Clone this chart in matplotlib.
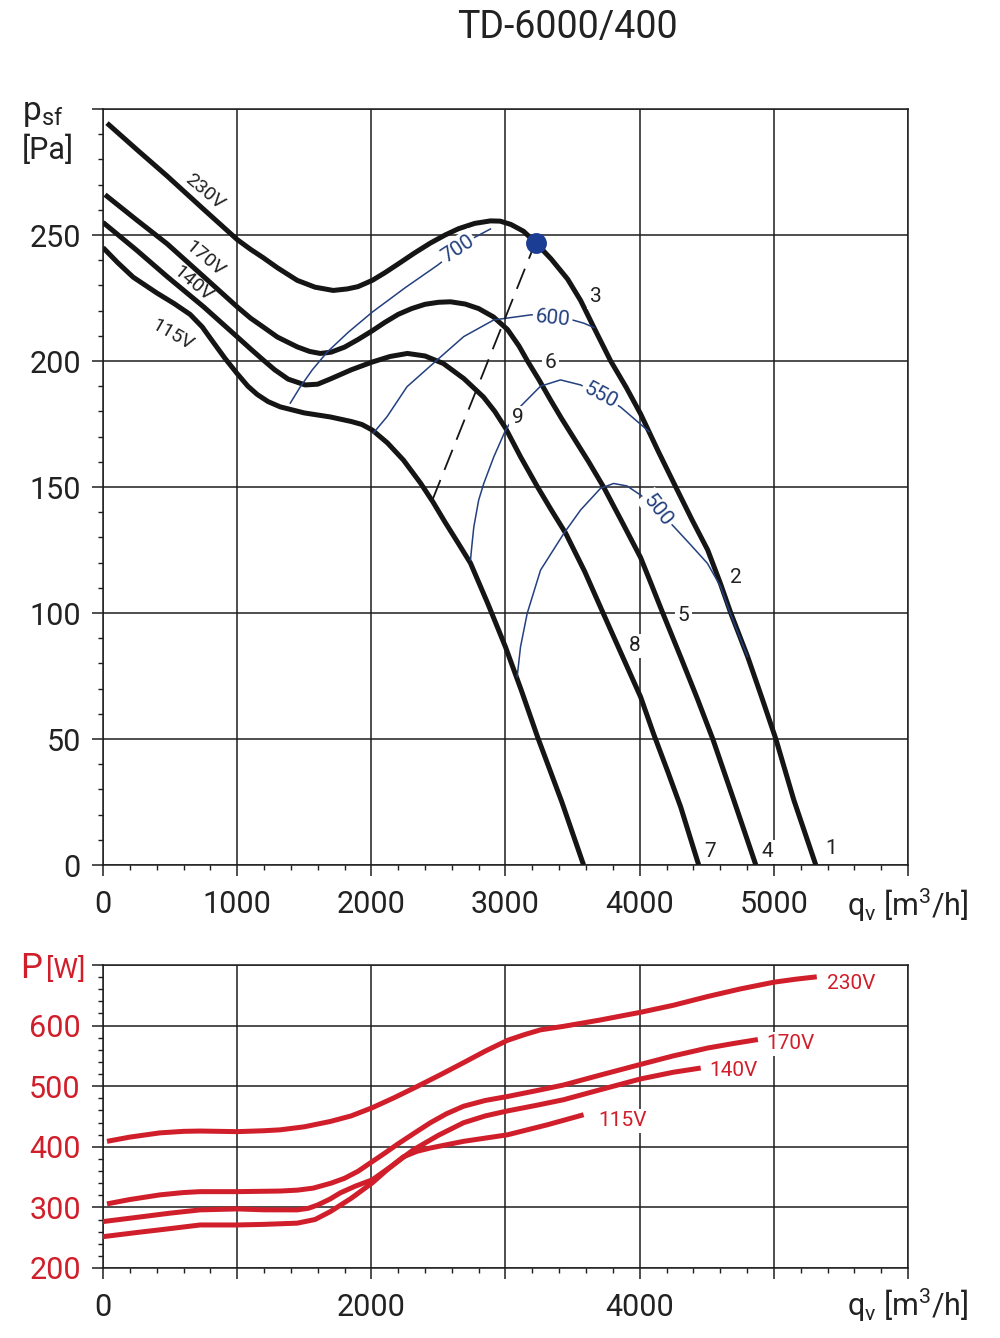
import numpy as np
import matplotlib
matplotlib.use('Agg')
import matplotlib.pyplot as plt
from matplotlib.ticker import MultipleLocator

plt.rcParams['font.family'] = ['Roboto', 'DejaVu Sans']
plt.rcParams['mathtext.default'] = 'regular'

# pressure curves, q [m3/h] vs p_sf [Pa]
q_230 = [30, 250, 478, 750, 1000, 1100, 1194, 1300, 1448, 1580, 1716, 1820, 1900, 2007, 2100, 2200,
         2320, 2440, 2550, 2650, 2770, 2888, 2960, 3040, 3134, 3224, 3340, 3463, 3560, 3657, 3784,
         3900, 4007, 4140, 4269, 4390, 4507, 4600, 4679, 4806, 4910, 5015, 5149, 5313]
p_230 = [294.4, 284, 273.4, 260.2, 248.2, 244.3, 241, 237, 232, 229.3, 228, 228.6, 229.5, 232, 235,
         238.5, 242.8, 246.8, 250, 252.5, 254.6, 255.6, 255.5, 254.2, 251.5, 247, 240.5, 232.5, 224,
         213.5, 200, 189.5, 179, 164, 150, 137, 125, 112, 100, 82.5, 66.5, 50, 25.8, 0]

q_170 = [15, 250, 478, 750, 1000, 1100, 1194, 1300, 1448, 1540, 1619, 1700, 1800, 1900, 2007, 2100,
         2200, 2300, 2400, 2500, 2590, 2700, 2800, 2910, 3015, 3100, 3164, 3250, 3336, 3420, 3500,
         3620, 3731, 3870, 4007, 4090, 4172, 4306, 4430, 4545, 4700, 4866]
p_170 = [266, 256, 246.5, 233.5, 221.5, 217, 213.5, 209.5, 205.6, 203.8, 203, 203.5, 205.5, 208.5,
         212, 215.3, 218.5, 220.8, 222.5, 223.3, 223.5, 222.6, 220.8, 217.5, 212.5, 206, 200, 192.5,
         184.5, 177, 170.2, 160, 150, 136, 122, 111, 100, 82.5, 66, 50, 26, 0]

q_140 = [0, 250, 478, 750, 1000, 1100, 1194, 1280, 1380, 1507, 1600, 1700, 1850, 2007, 2140, 2269,
         2400, 2537, 2690, 2836, 2920, 3000, 3112, 3239, 3340, 3448, 3590, 3724, 3870, 4007, 4104,
         4210, 4306, 4440]
p_140 = [255, 244, 233.5, 221.5, 209.6, 204.8, 200.4, 196.5, 192.8, 190.5, 190.8, 193, 196.5, 199.6,
         201.8, 203, 202, 199, 193, 185.7, 180, 173.4, 162, 150, 141, 131.7, 116.5, 100.4, 83, 66.7,
         52, 37, 23, 0]

q_115 = [0, 110, 224, 401, 530, 649, 740, 821, 910, 1000, 1080, 1150, 1230, 1321, 1500, 1694, 1850,
         1930, 2007, 2120, 2239, 2366, 2460, 2550, 2650, 2739, 2870, 3000, 3120, 3239, 3420, 3582]
p_115 = [245, 239, 233.3, 227, 222.8, 218.5, 213.5, 207.5, 201, 195, 190, 186.7, 183.9, 181.8, 179.4,
         177.8, 176, 174.8, 172.6, 167.5, 160.7, 151.6, 144, 136, 127.5, 119.8, 103.5, 86.5, 69, 50.8,
         25, 0]

# blue iso-lines
q_700 = [1396, 1470, 1560, 1672, 1830, 2007, 2250, 2493, 2640, 2761, 2888]
p_700 = [183.3, 189.7, 196.5, 203.6, 211.5, 219.4, 229, 238, 244, 248.8, 252.4]
q_600 = [2015, 2117, 2266, 2490, 2689, 2913, 3187, 3350, 3498, 3584, 3659]
p_600 = [171.4, 177.9, 189.8, 200.4, 209.7, 216.3, 218.3, 218.5, 216.3, 215, 213.3]
q_550 = [2739, 2751, 2764, 2800, 2838, 2913, 3000, 3112, 3261, 3410, 3560, 3709, 3858, 4070]
p_550 = [121, 127.6, 134.2, 144.8, 151.4, 162, 172.5, 182, 190, 192.5, 190.5, 186.5, 181.7, 172]
q_500 = [3087, 3112, 3162, 3261, 3435, 3560, 3709, 3806, 3906, 4007, 4134, 4256, 4381, 4505, 4604,
         4666, 4754, 4804]
p_500 = [74.7, 86.6, 99.9, 117, 131.6, 140.9, 149.5, 151.4, 150.4, 146.8, 140.9, 134.2, 127, 119.7,
         110.4, 101.2, 89.3, 82.7]

q_dash = [2455, 3200]
p_dash = [144.8, 244]
q_point = 3224
p_point = 247

# power curves, q [m3/h] vs P [W]
qw_230 = [30, 200, 425, 600, 724, 1000, 1200, 1321, 1500, 1694, 1850, 2007, 2170, 2343, 2520, 2687,
          2850, 3015, 3140, 3261, 3433, 3700, 4007, 4250, 4507, 4750, 5000, 5160, 5320]
w_230 = [409, 416, 423, 425.5, 426, 425, 426.5, 428, 433, 441.8, 451, 464.5, 481, 499.7, 519.5,
         538.8, 558, 575.7, 585, 593, 598.8, 609, 622, 633.5, 648, 660.5, 671.6, 676.5, 680.5]
qw_170 = [30, 200, 425, 600, 724, 1000, 1321, 1450, 1567, 1700, 1800, 1900, 1993, 2100, 2200, 2320,
          2440, 2560, 2687, 2850, 3015, 3261, 3433, 3700, 4007, 4250, 4507, 4700, 4881]
w_170 = [305.8, 313, 320.7, 324.5, 326, 326, 327, 328.5, 331.8, 340, 348, 359.5, 373.5, 389.5, 405,
         422.5, 439.7, 454.5, 466.9, 476.5, 483, 494, 502, 518, 536, 550, 563, 570.5, 577]
qw_140 = [0, 250, 500, 724, 1000, 1200, 1448, 1530, 1600, 1690, 1769, 1880, 2007, 2150, 2313, 2500,
          2687, 2850, 3015, 3220, 3433, 3720, 4007, 4250, 4455]
w_140 = [276.6, 283.5, 290.5, 295.9, 297.5, 296, 295.9, 298.5, 304, 313.5, 324, 335, 345.5, 368, 395,
         419, 439.7, 451, 459.2, 468, 477.7, 495, 512, 523, 530]
qw_115 = [0, 250, 500, 724, 1000, 1200, 1448, 1580, 1694, 1850, 2007, 2120, 2239, 2340, 2440, 2687,
          3015, 3313, 3582]
w_115 = [251.7, 258.5, 265, 271, 271, 272, 274, 280, 293, 315, 340.5, 362.5, 383.5, 392.5, 398, 409,
         419.8, 436.4, 452.9]

voltages = ['230V', '170V', '140V', '115V']

BLACK = '#151515'
BLUE = '#23407f'
RED = '#d01f2b'
GRID = '#1e1e1e'
TXT = '#222222'

fig = plt.figure(figsize=(10, 13.38), dpi=100)
ax1 = fig.add_axes([0.103, 0.35351, 0.805, 0.56502])
ax2 = fig.add_axes([0.103, 0.052317, 0.805, 0.22646])


def style_axes(ax, yticks, yminor, xlabels, ylabels, ycolor):
    ax.set_xlim(0, 6000)
    ax.set_ylim(yticks[0], yticks[-1])
    ax.set_xticks(range(0, 7000, 1000), xlabels)
    ax.set_yticks(yticks, ylabels)
    ax.xaxis.set_minor_locator(MultipleLocator(200))
    ax.yaxis.set_minor_locator(MultipleLocator(yminor))
    ax.grid(True, which='major', color=GRID, lw=1.1)
    ax.set_axisbelow(True)
    for s in ax.spines.values():
        s.set_color(GRID)
        s.set_linewidth(1.1)
    ax.tick_params(which='major', direction='out', length=8, width=1.1, color=GRID,
                   labelsize=22, pad=8, labelcolor=TXT)
    ax.tick_params(axis='x', which='major', pad=10)
    ax.tick_params(which='minor', direction='out', length=3.8, width=1.0, color=GRID)
    ax.tick_params(axis='y', labelcolor=ycolor)


style_axes(ax1, [0, 50, 100, 150, 200, 250, 300], 10,
           ['0', '1000', '2000', '3000', '4000', '5000', ''],
           ['0', '50', '100', '150', '200', '250', ''], TXT)
style_axes(ax2, [200, 300, 400, 500, 600, 700], 20,
           ['0', '', '2000', '', '4000', '', ''],
           ['200', '300', '400', '500', '600', ''], RED)

# pressure curves
for q, p in [(q_230, p_230), (q_170, p_170), (q_140, p_140), (q_115, p_115)]:
    ax1.plot(q, p, color=BLACK, lw=3.6, solid_capstyle='butt', solid_joinstyle='round', zorder=3)

for q, p in [(q_700, p_700), (q_600, p_600), (q_550, p_550), (q_500, p_500)]:
    ax1.plot(q, p, color=BLUE, lw=1.1, zorder=4)

ax1.plot(q_dash, p_dash, color=BLACK, lw=1.3, dashes=(12, 6), zorder=4)
ax1.plot([q_point], [p_point], 'o', color='#1c3d94', ms=14, zorder=6)

lab_kw = dict(fontsize=14, color=TXT, ha='center', va='center', zorder=5)
ax1.text(761, 267, '230V', rotation=-40, **lab_kw)
ax1.text(761, 240.5, '170V', rotation=-40, **lab_kw)
ax1.text(672, 230.8, '140V', rotation=-40, **lab_kw)
ax1.text(515, 210.5, '115V', rotation=-30, **lab_kw)

box = dict(boxstyle='square,pad=0.12', fc='white', ec='none')
num_labels = [('1', 5425, 6.7), ('2', 4716, 114), ('3', 3672, 225.4), ('4', 4955, 5.2),
              ('5', 4328, 99.2), ('6', 3336, 199.6), ('7', 4522, 5.2), ('8', 3963, 87),
              ('9', 3090, 177.4)]
for t, x, y in num_labels:
    ax1.text(x, y, t, fontsize=15, color=TXT, ha='center', va='center', bbox=box, zorder=5)

blue_labels = [('700', 2642, 244.4, 33), ('600', 3351, 217, -6), ('550', 3709, 186.5, -28),
               ('500', 4134, 140.9, -52)]
for t, x, y, r in blue_labels:
    ax1.text(x, y, t, fontsize=15, color=BLUE, ha='center', va='center', rotation=r,
             bbox=box, zorder=5)

# power curves
for q, w in [(qw_230, w_230), (qw_170, w_170), (qw_140, w_140), (qw_115, w_115)]:
    ax2.plot(q, w, color=RED, lw=3.6, solid_capstyle='butt', solid_joinstyle='round', zorder=3)

red_labels = [(5575, 669), (5127, 570), (4701, 525.6), (3873, 443)]
for v, (x, y) in zip(voltages, red_labels):
    ax2.text(x, y, v, fontsize=15, color=RED, ha='center', va='center', bbox=box, zorder=5)

# axis titles
fig.text(0.5675, 1 - 27 / 1338, 'TD-6000/400', fontsize=27, ha='center', va='center', color=TXT)
fig.text(0.022, 1 - 113 / 1338, '$p_{sf}$', fontsize=24, ha='left', va='center', color=TXT)
fig.text(0.022, 1 - 150 / 1338, '[Pa]', fontsize=22, ha='left', va='center', color=TXT)
fig.text(0.847, 1 - 905 / 1338, '$q_v$ [m$^3$/h]', fontsize=22, ha='left', va='center', color=TXT)
fig.text(0.847, 1 - 1305 / 1338, '$q_v$ [m$^3$/h]', fontsize=22, ha='left', va='center', color=TXT)
fig.text(0.020, 1 - 968 / 1338, 'P', fontsize=25, ha='left', va='center', color=RED)
fig.text(0.046, 1 - 970 / 1338, '[W]', fontsize=20, ha='left', va='center', color=RED)

fig.savefig('out.png', dpi=100)
